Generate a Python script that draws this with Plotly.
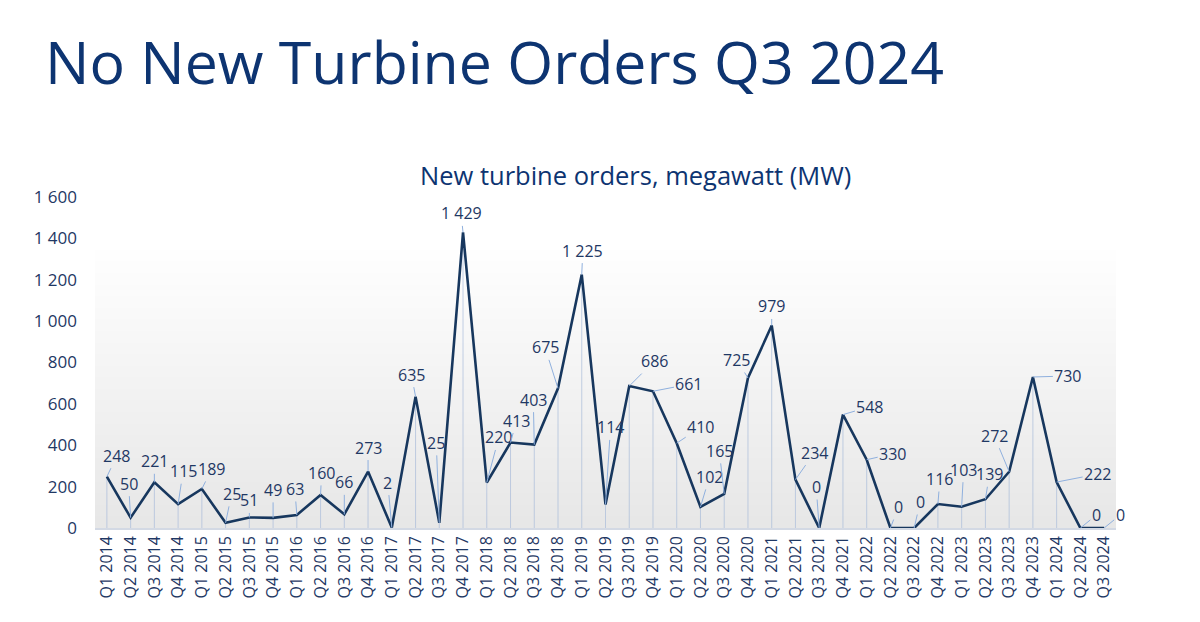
import plotly.graph_objects as go

quarters = ["Q1", "Q2", "Q3", "Q4"]
categories = [f"{q} {y}" for y in range(2014, 2025) for q in quarters][:43]
orders_mw = [248, 50, 221, 115, 189, 25, 51, 49, 63, 160, 66, 273, 2, 635, 25, 1429,
             220, 413, 403, 675, 1225, 114, 686, 661, 410, 102, 165, 725, 979, 234,
             0, 548, 330, 0, 0, 116, 103, 139, 272, 730, 222, 0, 0]
y_ticks = [0, 200, 400, 600, 800, 1000, 1200, 1400, 1600]

# label offsets in pixels (layout only)
label_offsets = [(10, -21), (-2, -34), (0, -21), (5, -33), (10, -20), (6, -29), (0, -17),
                 (0, -28), (-2, -26), (1, -22), (0, -32), (0, -24), (-4, -45), (-4, -22),
                 (-3, -80), (-2, -19), (12, -45), (6, -22), (-1, -45), (-13, -41), (1, -24),
                 (5, -77), (25, -25), (36, -7), (24, -16), (9, -30), (-5, -43), (-11, -18),
                 (0, -19), (19, -27), (-3, -41), (27, -8), (26, -6), (8, -21), (6, -26),
                 (2, -25), (2, -37), (4, -25), (-15, -36), (35, -1), (41, -8), (16, -13),
                 (16, -13)]

NAVY = "#0d3471"
LINE = "#17375e"
TEXT = "#1f3864"
LEADER = "#8fb0de"

fig = go.Figure()

# gradient background (stacked translucent bands)
n_bands = 24
for i in range(n_bands):
    top = 0.84 * (i + 1) / n_bands
    fig.add_shape(type="rect", xref="paper", yref="paper", x0=0, x1=1, y0=0, y1=top,
                  fillcolor="rgba(160,170,190,0.0068)", line_width=0, layer="below")

# drop lines
fig.add_trace(go.Scatter(
    x=categories, y=orders_mw, mode="markers", marker=dict(size=0.1, opacity=0),
    error_y=dict(type="data", symmetric=False, array=[0] * len(orders_mw),
                 arrayminus=orders_mw, color="rgba(170,188,218,0.7)", thickness=1, width=0),
    hoverinfo="skip", showlegend=False))

fig.add_trace(go.Scatter(
    x=categories, y=orders_mw, mode="lines",
    line=dict(color=LINE, width=2.6), showlegend=False))

for cat, val, (dx, dy) in zip(categories, orders_mw, label_offsets):
    fig.add_annotation(x=cat, y=val, xref="x", yref="y",
                       text=f"{val:,}".replace(",", " "),
                       showarrow=True, arrowhead=0, arrowwidth=1, arrowcolor=LEADER,
                       ax=dx, ay=dy, standoff=0, startstandoff=0,
                       font=dict(family="Open Sans", size=16, color=TEXT))

fig.add_annotation(text="New turbine orders, megawatt (MW)", xref="paper", yref="paper",
                   x=0.529, y=1.066, showarrow=False, xanchor="center", yanchor="middle",
                   font=dict(family="Open Sans", size=25.5, color=NAVY))

fig.update_layout(
    width=1200, height=622,
    paper_bgcolor="white", plot_bgcolor="rgba(0,0,0,0)",
    margin=dict(l=95, r=84, t=197, b=94),
    separators=". ",
    title=dict(text="No New Turbine Orders Q3 2024", xref="container", yref="container",
               x=45 / 1200, xanchor="left", y=1 - 63 / 622, yanchor="middle",
               font=dict(family="Open Sans", size=59, color=NAVY)),
    font=dict(family="Open Sans", color=TEXT),
)
fig.update_xaxes(type="category", tickangle=-90, showgrid=False, showline=True,
                 linecolor="#d3d9e4", linewidth=1.5, ticks="", range=[-0.5, 42.5],
                 tickfont=dict(family="Open Sans", size=16, color=TEXT))
fig.update_yaxes(range=[0, 1600], tickvals=y_ticks, tickformat=",d", showgrid=False,
                 zeroline=False, showline=False, ticks="", ticklabelstandoff=17,
                 tickfont=dict(family="Open Sans", size=17, color=TEXT))

fig.write_html("out.html", config={"displayModeBar": False},
               post_script="document.body.style.margin='0';document.body.style.overflow='hidden';")
